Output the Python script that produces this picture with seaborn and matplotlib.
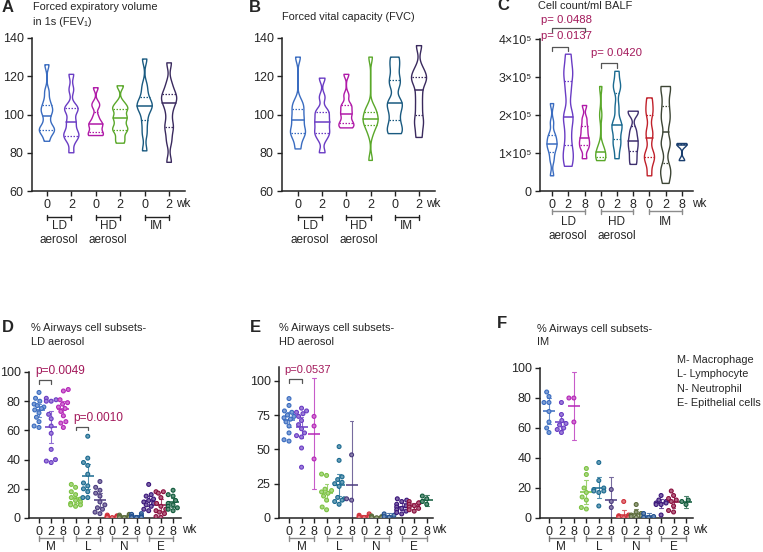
import numpy as np
import pandas as pd
import matplotlib
matplotlib.use("Agg")
import matplotlib.pyplot as plt
import seaborn as sns

W, H = 763, 552

# ---- A: FEV1 (% predicted) ----
ab_groups = ["LD0", "LD2", "HD0", "HD2", "IM0", "IM2"]
ab_ticks = ["0", "2", "0", "2", "0", "2"]
ab_colors = ["#3a6cc0", "#6a3cc4", "#b01aa8", "#5aa82a", "#1a5a80", "#3a2a5e"]
fev1_values = [
    [86, 90, 92, 92, 93, 97, 101, 102, 104, 107, 112, 126],
    [80, 86, 89, 89, 91, 95, 97, 102, 103, 104, 113, 121],
    [89, 89, 90, 92, 94, 95, 96, 99, 104, 106, 114],
    [85, 88, 92, 92, 95, 98, 99, 103, 103, 106, 115],
    [81, 90, 96, 101, 104, 105, 106, 110, 115, 129],
    [75, 86, 92, 95, 101, 106, 107, 110, 111, 116, 127],
]

# ---- B: FVC ----
fvc_values = [
    [82, 87, 90, 91, 93, 97, 98, 102, 104, 107, 130],
    [80, 87, 90, 91, 94, 96, 98, 101, 102, 109, 119],
    [93, 94, 95, 97, 100, 101, 104, 105, 110, 121],
    [76, 90, 94, 95, 97, 98, 100, 102, 104, 130],
    [90, 92, 96, 101, 105, 107, 115, 119, 125, 130],
    [88, 94, 98, 104, 110, 116, 119, 120, 124, 136],
]

# ---- C: cell count / ml BALF (x1e5) ----
c_groups = ["LD0", "LD2", "LD8", "HD0", "HD2", "HD8", "IM0", "IM2", "IM8"]
c_ticks = ["0", "2", "8", "0", "2", "8", "0", "2", "8"]
c_colors = ["#3a6cc0", "#6a3cc4", "#b01aa8", "#5aa82a", "#1a6a90", "#3e2f6e",
            "#c0202a", "#3d4535", "#1a3e6e"]
cells_values = [
    [0.4, 0.8, 1.0, 1.15, 1.2, 1.3, 1.4, 1.5, 1.8, 2.3],
    [0.65, 0.9, 1.1, 1.5, 1.9, 2.0, 2.6, 3.0, 3.2, 3.6],
    [0.85, 1.1, 1.2, 1.3, 1.4, 1.55, 1.7, 1.9, 2.25],
    [0.8, 0.85, 0.9, 0.95, 1.1, 1.15, 2.0, 2.75],
    [0.85, 1.2, 1.3, 1.6, 1.7, 1.8, 2.2, 2.7, 2.8, 3.15],
    [0.7, 0.9, 1.1, 1.25, 1.4, 1.6, 2.05, 2.1],
    [0.4, 0.75, 0.9, 1.0, 1.4, 1.6, 2.0, 2.2, 2.45],
    [0.2, 0.5, 0.6, 1.2, 1.3, 1.8, 2.0, 2.3, 2.7, 2.75],
    [0.8, 1.2, 1.25],
]

# ---- D-F: % airway cell subsets ----
s_groups = ["M0", "M2", "M8", "L0", "L2", "L8", "N0", "N2", "N8", "E0", "E2", "E8"]
s_ticks = ["0", "2", "8"] * 4
s_colors = ["#3a6cc0", "#6a3cc4", "#b526b8", "#7cc242", "#1a6a90", "#4a3a7e",
            "#d0303a", "#5a6a3a", "#1f4f8f", "#3a157a", "#8a0f3e", "#0f5a3a"]
ld_values = [
    [86, 82, 80, 78, 77, 76, 75, 74, 72, 69, 66, 63, 62],
    [82, 81, 80, 80, 71, 68, 63, 58, 47, 40, 39, 38],
    [88, 87, 81, 79, 78, 76, 75, 73, 70, 66, 65, 62],
    [23, 21, 18, 16, 14, 13, 12, 11, 10, 9, 9, 8],
    [56, 41, 38, 36, 30, 24, 22, 20, 18, 14, 14],
    [25, 21, 19, 17, 15, 11, 9, 7, 6, 4, 3],
    [2, 1.5, 1.2, 1, 1, 0.8, 0.8, 0.5, 0.5, 0.3],
    [2.5, 2, 1.5, 1, 1, 0.5, 0.5, 0.3, 0.2],
    [3, 2.5, 1.5, 1, 0.5, 0.5, 0.3, 0.2],
    [23, 16, 15, 13, 12, 11, 10, 9, 8, 6, 5],
    [18, 18, 17, 14, 10, 8, 6, 5, 4, 3, 1, 0.5],
    [19, 16, 15, 12, 10, 9, 8, 7, 6, 5],
]
hd_values = [
    [87, 82, 78, 77, 75, 74, 73, 72, 70, 67, 62, 57, 56],
    [80, 78, 77, 76, 74, 71, 68, 65, 62, 60, 59, 51, 37],
    [74, 67, 43],
    [32, 31, 21, 20, 19, 18, 16, 13, 8, 6],
    [52, 42, 30, 28, 26, 25, 23, 15, 14, 13, 12, 10],
    [46, 14, 13],
    [3, 2, 1.5, 1, 0.5, 0.5, 0.3],
    [1.5, 1, 1, 0.5, 0.3, 0.2],
    [3, 2, 1, 0.5],
    [14, 13, 12, 10, 9, 8, 7, 6, 5, 4, 3],
    [12, 11, 11, 10, 9, 8, 7, 6, 5],
    [16, 14, 12, 10],
]
im_values = [
    [84, 81, 77, 77, 71, 64, 60, 57],
    [77, 69, 65, 63, 62, 60, 59, 57],
    [80, 80, 64],
    [33, 29, 20, 17, 14, 12, 7, 6],
    [37, 25, 20, 19, 18, 18, 17, 8],
    [19, 11, 7],
    [11, 2, 1.5, 1, 1, 0.5, 0.5, 0.3],
    [9, 4, 3, 2, 1.5, 1, 0.5],
    [3, 1, 0.5, 0.3],
    [15, 12, 11, 10, 10, 9, 9, 2],
    [18, 15, 13, 12, 11, 8, 5, 4],
    [12, 11, 9],
]
legend_lines = ["M- Macrophage", "L- Lymphocyte", "N- Neutrophil", "E- Epithelial cells"]

PCOL = "#a3195b"
T95 = {1: 12.706, 2: 4.303, 3: 3.182, 4: 2.776, 5: 2.571, 6: 2.447, 7: 2.365,
       8: 2.306, 9: 2.262, 10: 2.228, 11: 2.201, 12: 2.179, 13: 2.160, 14: 2.145}

sns.set_style("white")
plt.rcParams["font.family"] = ["Liberation Sans", "DejaVu Sans"]
plt.rcParams["font.size"] = 9


def long(groups, values):
    rows = [(g, v) for g, vals in zip(groups, values) for v in vals]
    return pd.DataFrame(rows, columns=["group", "value"])


def ci95(v):
    v = np.asarray(v, dtype=float)
    n = len(v)
    m = v.mean()
    h = T95[n - 1] * v.std(ddof=1) / np.sqrt(n)
    return (m - h, m + h)


def rect(l, t, r, b):
    return [l / W, 1 - b / H, (r - l) / W, (b - t) / H]


def ay(ax, ypx):
    p = ax.get_position()
    return ((1 - ypx / H) - p.y0) / p.height


def style(ax, ticks, xlim, ylim, yticks, ylabels=None):
    ax.set_xlabel("")
    ax.set_ylabel("")
    ax.set_xticks(range(len(ticks)))
    ax.set_xticklabels(ticks)
    ax.set_xlim(*xlim)
    ax.set_ylim(*ylim)
    ax.set_yticks(yticks)
    if ylabels is not None:
        ax.set_yticklabels(ylabels)
    for s in ["top", "right"]:
        ax.spines[s].set_visible(False)
    for s in ["left", "bottom"]:
        ax.spines[s].set_linewidth(1.1)
        ax.spines[s].set_color("#222222")
    ax.tick_params(axis="both", direction="out", length=3.5, width=1.0,
                   pad=2.5, labelsize=9, color="#222222", bottom=True, left=True)


def group_brackets(ax, spans, labels, yline, ytext, color):
    tr = ax.get_xaxis_transform()
    y = ay(ax, yline)
    d = ay(ax, yline - 2.5) - y
    for (x0, x1), lab in zip(spans, labels):
        ax.plot([x0, x1], [y, y], color=color, lw=1.0, transform=tr, clip_on=False)
        for x in (x0, x1):
            ax.plot([x, x], [y - d, y + d], color=color, lw=1.0, transform=tr, clip_on=False)
        ax.text((x0 + x1) / 2, ay(ax, ytext), lab, transform=tr, ha="center",
                va="top", fontsize=8.5, linespacing=1.25)


def wk(ax, x, ypx):
    ax.text(x, ay(ax, ypx), "wk", transform=ax.get_xaxis_transform(),
            ha="left", va="center", fontsize=8.5)


def sig(ax, x0, x1, y, h, text, tx, ty, size=8.5):
    ax.plot([x0, x0, x1, x1], [y - h, y, y, y - h], color="#555555", lw=0.9, clip_on=False)
    ax.text(tx, ty, text, color=PCOL, ha="center", va="center", fontsize=size)


def violins(ax, groups, values, colors):
    df = long(groups, values)
    sns.violinplot(data=df, x="group", y="value", hue="group", order=groups,
                   hue_order=groups, palette=dict(zip(groups, colors)), fill=False,
                   inner="quart", cut=0, bw_adjust=0.35, density_norm="width",
                   width=0.62, linewidth=1.0, legend=False, ax=ax)
    for i, ln in enumerate(ax.lines):
        if i % 3 == 1:
            ln.set_linestyle("-")
            ln.set_linewidth(1.1)
        else:
            ln.set_linestyle((0, (1.2, 1.2)))
            ln.set_linewidth(0.9)


def swarm(ax, groups, values, colors):
    df = long(groups, values)
    pal = dict(zip(groups, colors))
    n0 = len(ax.collections)
    sns.swarmplot(data=df, x="group", y="value", hue="group", order=groups,
                  hue_order=groups, palette=pal, size=2.8, linewidth=0.8,
                  legend=False, ax=ax, warn_thresh=1.0)
    for coll in ax.collections[n0:]:
        fc = coll.get_facecolors()
        if len(fc) == 0:
            continue
        coll.set_edgecolors(fc.copy())
        light = fc.copy()
        light[:, :3] = light[:, :3] * 0.65 + 0.35
        coll.set_facecolors(light)
    sns.pointplot(data=df, x="group", y="value", hue="group", order=groups,
                  hue_order=groups, palette=pal, estimator="mean", errorbar=ci95,
                  linestyle="none", marker="_", markersize=8, markeredgewidth=1.1,
                  capsize=0.3, err_kws={"linewidth": 0.8, "alpha": 0.75},
                  legend=False, ax=ax)


fig = plt.figure(figsize=(W / 100, H / 100), dpi=100)

# ---------- A ----------
ax = fig.add_axes(rect(32, 38, 185, 191))
violins(ax, ab_groups, fev1_values, ab_colors)
style(ax, ab_ticks, (-0.61, 5.65), (60, 140), [60, 80, 100, 120, 140])
wk(ax, 5.3, 204)
group_brackets(ax, [(0, 1), (2, 3), (4, 5)], ["LD\naerosol", "HD\naerosol", "IM"], 217, 220, "#222222")

# ---------- B ----------
ax = fig.add_axes(rect(282, 38, 435, 191))
violins(ax, ab_groups, fvc_values, ab_colors)
style(ax, ab_ticks, (-0.66, 5.66), (60, 140), [60, 80, 100, 120, 140])
wk(ax, 5.3, 204)
group_brackets(ax, [(0, 1), (2, 3), (4, 5)], ["LD\naerosol", "HD\naerosol", "IM"], 217, 220, "#222222")

# ---------- C ----------
ax = fig.add_axes(rect(540, 39, 693, 191))
violins(ax, c_groups, [[v * 1e5 for v in vals] for vals in cells_values], c_colors)
style(ax, c_ticks, (-0.74, 8.68), (0, 4e5), [0, 1e5, 2e5, 3e5, 4e5],
      ["0", "1×10⁵", "2×10⁵", "3×10⁵", "4×10⁵"])
wk(ax, 8.6, 204)
group_brackets(ax, [(0, 2), (3, 5), (6, 8)], ["LD\naerosol", "HD\naerosol", "IM"], 211, 216, "#8c8c8c")
sig(ax, 0, 1, 3.8e5, 0.12e5, "p= 0.0137", 0.92, 4.07e5, 8.2)
sig(ax, 0, 2, 4.3e5, 0.12e5, "p= 0.0488", 0.92, 4.5e5, 8.2)
sig(ax, 3, 4, 3.37e5, 0.12e5, "p= 0.0420", 4.0, 3.63e5, 8.2)

# ---------- D ----------
spans = [(0, 2), (3, 5), (6, 8), (9, 11)]
ax = fig.add_axes(rect(29, 372, 181, 518))
swarm(ax, s_groups, ld_values, s_colors)
style(ax, s_ticks, (-0.82, 11.65), (0, 100), [0, 20, 40, 60, 80, 100])
wk(ax, 11.7, 530)
group_brackets(ax, spans, ["M", "L", "N", "E"], 538, 541, "#8a8a8a")
sig(ax, 0, 1, 94.5, 2.5, "p=0.0049", 1.77, 100.5, 8.6)
sig(ax, 3, 4, 62.5, 2.5, "p=0.0010", 4.88, 68.5, 8.6)

# ---------- E ----------
ax = fig.add_axes(rect(279, 367, 433, 518))
swarm(ax, s_groups, hd_values, s_colors)
style(ax, s_ticks, (-0.8, 11.5), (0, 110), [0, 25, 50, 75, 100])
wk(ax, 11.4, 530)
group_brackets(ax, spans, ["M", "L", "N", "E"], 538, 541, "#8a8a8a")
sig(ax, 0, 1, 101, 3, "p=0.0537", 1.5, 107.5, 8.0)

# ---------- F ----------
ax = fig.add_axes(rect(540, 368, 693, 518))
swarm(ax, s_groups, im_values, s_colors)
style(ax, s_ticks, (-0.72, 11.56), (0, 100), [0, 20, 40, 60, 80, 100])
wk(ax, 11.6, 530)
group_brackets(ax, spans, ["M", "L", "N", "E"], 538, 541, "#777777")
for i, line in enumerate(legend_lines):
    fig.text(677 / W, 1 - (360 + 14.4 * i) / H, line, ha="left", va="center", fontsize=7.8)

# ---------- titles and panel letters ----------
def ftext(x, y, s, **kw):
    fig.text(x / W, 1 - y / H, s, va="center", **kw)

ftext(2, 7, "A", fontsize=12, fontweight="bold")
ftext(33, 7, "Forced expiratory volume", fontsize=7.9)
ftext(33, 22, "in 1s (FEV₁)", fontsize=7.9)
ftext(249, 7, "B", fontsize=12, fontweight="bold")
ftext(282, 17, "Forced vital capacity (FVC)", fontsize=7.9)
ftext(497, 6, "C", fontsize=12, fontweight="bold")
ftext(538, 6, "Cell count/ml BALF", fontsize=7.9)
ftext(2, 328, "D", fontsize=12, fontweight="bold")
ftext(31, 328, "% Airways cell subsets-", fontsize=7.9)
ftext(31, 342, "LD aerosol", fontsize=7.9)
ftext(250, 328, "E", fontsize=12, fontweight="bold")
ftext(279, 328, "% Airways cell subsets-", fontsize=7.9)
ftext(279, 342, "HD aerosol", fontsize=7.9)
ftext(497, 324, "F", fontsize=12, fontweight="bold")
ftext(537, 329, "% Airways cell subsets-", fontsize=7.9)
ftext(537, 342, "IM", fontsize=7.9)

fig.savefig("out.png", dpi=100)
